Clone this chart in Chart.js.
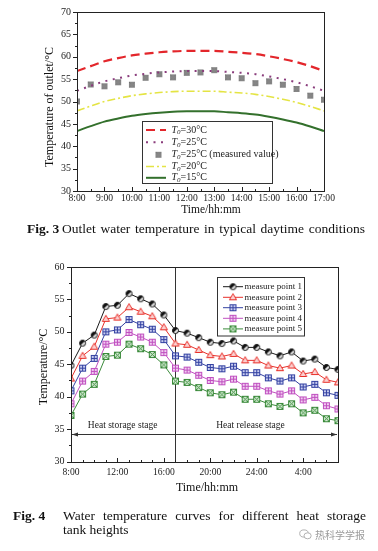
<!DOCTYPE html>
<html><head><meta charset="utf-8">
<script src="https://cdn.jsdelivr.net/npm/chart.js@4.4.1/dist/chart.umd.min.js"></script>
<style>
html,body{margin:0;padding:0;background:#fff;}
#page{position:relative;width:378px;height:551px;overflow:hidden;background:#fff;font-family:"Liberation Serif","Times New Roman",serif;color:#111;}
.t{position:absolute;white-space:nowrap;}
canvas{position:absolute;left:0;}
</style></head><body>
<div id="page">
<canvas id="c1" width="378" height="216" style="top:0;width:378px;height:216px"></canvas>
<canvas id="c2" width="378" height="232" style="top:250px;width:378px;height:232px"></canvas>

<div class="t" style="left:49px;top:107px;font-size:12px;line-height:14px;transform:translate(-50%,-50%) rotate(-90deg);">Temperature of outlet/°C</div>
<div class="t" style="left:211px;top:209px;font-size:11.5px;line-height:14px;transform:translate(-50%,-50%);">Time/hh:mm</div>
<div class="t" style="left:27px;top:221px;font-size:13.5px;line-height:16px;font-weight:bold;">Fig. 3</div>
<div class="t" style="left:62px;top:221px;width:303px;font-size:13.5px;line-height:16px;text-align:justify;text-align-last:justify;white-space:normal;">Outlet water temperature in typical daytime conditions</div>

<div class="t" style="left:43px;top:367px;font-size:12px;line-height:14px;transform:translate(-50%,-50%) rotate(-90deg);">Temperature/°C</div>
<div class="t" style="left:207px;top:487px;font-size:12px;line-height:14px;transform:translate(-50%,-50%);">Time/hh:mm</div>
<div class="t" style="left:13px;top:508px;font-size:13.5px;line-height:16px;font-weight:bold;">Fig. 4</div>
<div class="t" style="left:63px;top:508px;width:303px;font-size:13.5px;line-height:16px;text-align:justify;text-align-last:justify;white-space:normal;">Water temperature curves for different heat storage</div>
<div class="t" style="left:63px;top:522px;font-size:13.5px;line-height:16px;">tank heights</div>
<svg class="t" style="left:299px;top:529px" width="13" height="11" viewBox="0 0 13 11"><ellipse cx="5" cy="4.5" rx="4.3" ry="3.6" fill="none" stroke="#aaa" stroke-width="0.9"/><ellipse cx="8.6" cy="6.8" rx="3.6" ry="3" fill="#fff" stroke="#aaa" stroke-width="0.9"/></svg>
<div class="t" style="left:315px;top:529px;font-size:10px;line-height:12px;color:#9a9a9a;font-family:'Noto Sans CJK SC',sans-serif;">热科学学报</div>
</div>

<script>
// ---------- Fig. 3 data ----------
const fig3Times = ['8:00','8:30','9:00','9:30','10:00','10:30','11:00','11:30','12:00','12:30','13:00','13:30','14:00','14:30','15:00','15:30','16:00','16:30','17:00'];
const fig3Hours = [8,8.5,9,9.5,10,10.5,11,11.5,12,12.5,13,13.5,14,14.5,15,15.5,16,16.5,17];
const fig3TickHours = [8,9,10,11,12,13,14,15,16,17];
const fig3TickLabels = ['8:00','9:00','10:00','11:00','12:00','13:00','14:00','15:00','16:00','17:00'];
const fig3YTicks = [30,35,40,45,50,55,60,65,70];
const t0_30 = [56.8,57.9,59.0,59.7,60.3,60.7,61.0,61.2,61.3,61.3,61.3,61.1,60.9,60.6,60.1,59.5,58.8,57.9,56.8];
const t0_25 = [52.4,53.5,54.5,55.2,55.8,56.2,56.5,56.7,56.8,56.8,56.8,56.6,56.4,56.1,55.6,55.0,54.3,53.4,52.4];
const t0_25_measured = [50.0,53.8,53.4,54.3,53.75,55.3,56.1,55.4,56.4,56.5,57.0,55.4,55.2,54.1,54.5,53.75,52.8,51.3,50.4];
const t0_20 = [47.9,49.0,50.0,50.7,51.3,51.7,52.0,52.2,52.3,52.3,52.3,52.1,51.9,51.6,51.1,50.5,49.8,48.9,47.9];
const t0_15 = [43.4,44.5,45.5,46.2,46.8,47.2,47.5,47.7,47.8,47.8,47.8,47.6,47.4,47.1,46.6,46.0,45.3,44.4,43.4];

// ---------- Fig. 4 data ----------
const fig4Times = ['8:00','9:00','10:00','11:00','12:00','13:00','14:00','15:00','16:00','17:00','18:00','19:00','20:00','21:00','22:00','23:00','24:00','1:00','2:00','3:00','4:00','5:00','6:00','7:00'];
const fig4Hours = [8,9,10,11,12,13,14,15,16,17,18,19,20,21,22,23,24,25,26,27,28,29,30,31];
const fig4TickHours = [8,12,16,20,24,28];
const fig4TickLabels = ['8:00','12:00','16:00','20:00','24:00','4:00'];
const fig4YTicks = [30,35,40,45,50,55,60];
const mp1 = [44.8,48.25,49.5,53.9,54.1,55.9,55.1,54.3,52.6,50.2,49.8,49.1,48.4,48.2,48.6,47.6,47.6,46.9,46.3,46.9,45.5,45.8,44.5,44.2];
const mp2 = [42.8,46.3,47.7,52.0,52.2,53.8,53.1,52.4,50.7,48.2,48.0,47.2,46.4,46.2,46.6,45.6,45.6,44.8,44.4,44.8,43.5,43.8,42.6,42.2];
const mp3 = [40.9,44.4,45.9,50.0,50.3,51.9,51.1,50.4,48.8,46.3,46.1,45.3,44.5,44.3,44.7,43.7,43.7,42.9,42.4,42.9,41.5,41.9,40.6,40.2];
const mp4 = [38.9,42.4,43.9,48.1,48.4,49.9,49.2,48.4,46.8,44.4,44.1,43.3,42.5,42.3,42.7,41.6,41.6,40.9,40.4,40.9,39.5,39.9,38.6,38.1];
const mp5 = [37.1,40.4,41.9,46.2,46.4,48.1,47.4,46.5,44.9,42.4,42.2,41.4,40.6,40.3,40.7,39.6,39.6,38.9,38.5,38.9,37.5,37.9,36.6,36.3];
const stageBoundary = 17;
const stageArrowY = 34.2;
const stageLabels = [{text:'Heat storage stage', x:12.45, y:35.55},{text:'Heat release stage', x:23.46, y:35.55}];

const FONT = "'Liberation Serif','Times New Roman',serif";

// ---------- marker images ----------
function mk(s, draw){const c=document.createElement('canvas');c.width=s;c.height=s;const g=c.getContext('2d');draw(g,s/2);return c;}
const mMeasured = mk(8,(g,h)=>{g.fillStyle='#f2f2f2';g.fillRect(h-2.5,h-2.5,5,5);g.strokeStyle='#6a6a6a';g.lineWidth=0.8;g.strokeRect(h-2.5,h-2.5,5,5);g.beginPath();g.arc(h,h,1.7,0,Math.PI*2);g.stroke();g.beginPath();g.moveTo(h-2.5,h-2.5);g.lineTo(h+2.5,h+2.5);g.moveTo(h+2.5,h-2.5);g.lineTo(h-2.5,h+2.5);g.stroke();});
const mCircle = mk(9,(g,h)=>{g.fillStyle='#ddd';g.beginPath();g.arc(h,h,3,0,Math.PI*2);g.fill();g.fillStyle='#111';g.beginPath();g.arc(h,h,3,Math.PI*0.75,Math.PI*1.75);g.fill();g.strokeStyle='#111';g.lineWidth=1;g.beginPath();g.arc(h,h,3,0,Math.PI*2);g.stroke();});
const mTri = mk(10,(g,h)=>{g.fillStyle='#fbd0d0';g.strokeStyle='#e8302a';g.lineWidth=1;g.beginPath();g.moveTo(h,h-3.6);g.lineTo(h+3.6,h+2.5);g.lineTo(h-3.6,h+2.5);g.closePath();g.fill();g.stroke();});
function sqPlus(col,fill){return mk(9,(g,h)=>{g.fillStyle=fill;g.fillRect(h-3,h-3,6,6);g.strokeStyle=col;g.lineWidth=1;g.strokeRect(h-3,h-3,6,6);g.beginPath();g.moveTo(h,h-3);g.lineTo(h,h+3);g.moveTo(h-3,h);g.lineTo(h+3,h);g.stroke();});}
const mSq3 = sqPlus('#3442a2','#c9cdf0');
const mSq4 = sqPlus('#c050c0','#f1cdf1');
const mX5 = mk(9,(g,h)=>{g.fillStyle='#d4ecd4';g.fillRect(h-3,h-3,6,6);g.strokeStyle='#3a8a3a';g.lineWidth=1;g.strokeRect(h-3,h-3,6,6);g.beginPath();g.moveTo(h-3,h-3);g.lineTo(h+3,h+3);g.moveTo(h+3,h-3);g.lineTo(h-3,h+3);g.stroke();});

// ---------- helpers ----------
function range(a,b,s){const r=[];for(let v=a;v<=b+1e-9;v+=s)r.push(+v.toFixed(4));return r;}
function frameAndTicks(chart, cfg){
  const {ctx, chartArea:a, scales:{x,y}} = chart;
  ctx.save();
  ctx.strokeStyle='#222';ctx.lineWidth=1;
  ctx.strokeRect(Math.round(a.left)+0.5, Math.round(a.top)+0.5, Math.round(a.right-a.left), Math.round(a.bottom-a.top));
  ctx.beginPath();
  const yb = Math.round(a.bottom)+0.5, xl = Math.round(a.left)+0.5;
  cfg.xMajor.forEach(v=>{const p=Math.round(x.getPixelForValue(v))+0.5;ctx.moveTo(p,yb);ctx.lineTo(p,yb+cfg.xDir*4.5);});
  cfg.xMinor.forEach(v=>{const p=Math.round(x.getPixelForValue(v))+0.5;ctx.moveTo(p,yb);ctx.lineTo(p,yb+cfg.xDir*2.5);});
  cfg.yMajor.forEach(v=>{const p=Math.round(y.getPixelForValue(v))+0.5;ctx.moveTo(xl,p);ctx.lineTo(xl-4.5,p);});
  cfg.yMinor.forEach(v=>{const p=Math.round(y.getPixelForValue(v))+0.5;ctx.moveTo(xl,p);ctx.lineTo(xl-2.5,p);});
  ctx.stroke();
  ctx.restore();
}
function drawLineSample(ctx, ds, x1, x2, yy){
  ctx.save();
  ctx.strokeStyle=ds.borderColor;ctx.lineWidth=ds.borderWidth;ctx.setLineDash(ds.borderDash||[]);
  ctx.beginPath();ctx.moveTo(x1,yy);ctx.lineTo(x2,yy);ctx.stroke();
  ctx.restore();
}

// ---------- Fig. 3 ----------
const fig3Legend = {
  id:'fig3Legend',
  afterDraw(chart){
    frameAndTicks(chart,{xMajor:fig3TickHours,xMinor:range(8.5,16.5,1),xDir:-1,yMajor:fig3YTicks,yMinor:range(32.5,67.5,5)});
    const ctx=chart.ctx;
    ctx.save();
    ctx.fillStyle='#fff';ctx.fillRect(143,121,130,62);
    ctx.strokeStyle='#333';ctx.lineWidth=1;ctx.strokeRect(142.5,121.5,130,62);
    const rows=[130,142.3,154.8,166.5,177.8];
    const labels=['=30°C','=25°C','=25°C (measured value)','=20°C','=15°C'];
    [0,1,2,3,4].forEach((di,i)=>{
      const ds=chart.data.datasets[di];
      if(di===2){ctx.drawImage(mMeasured,158.5-4,rows[i]-4);}
      else drawLineSample(ctx,ds,146,166,rows[i]);
      let tx=171.5;
      ctx.fillStyle='#222';ctx.textBaseline='middle';ctx.textAlign='left';
      ctx.font='italic 10px '+FONT;ctx.fillText('T',tx,rows[i]);tx+=ctx.measureText('T').width;
      ctx.font='italic 7px '+FONT;ctx.fillText('0',tx,rows[i]+2.5);tx+=ctx.measureText('0').width;
      ctx.font='10px '+FONT;ctx.fillText(labels[i],tx,rows[i]);
    });
    ctx.restore();
  }
};
new Chart(document.getElementById('c1'),{
  type:'line',
  data:{
    labels: fig3Times,
    datasets:[
      {label:'T0=30°C',data:fig3Hours.map((h,i)=>({x:h,y:t0_30[i]})),borderColor:'#e3262b',borderWidth:2.2,borderDash:[9,5],pointRadius:0,tension:0.4,cubicInterpolationMode:'monotone',fill:false},
      {label:'T0=25°C',data:fig3Hours.map((h,i)=>({x:h,y:t0_25[i]})),borderColor:'#8a3c7c',borderWidth:2,borderDash:[2,5.5],pointRadius:0,tension:0.4,cubicInterpolationMode:'monotone',fill:false},
      {label:'T0=25°C (measured value)',data:fig3Hours.map((h,i)=>({x:h,y:t0_25_measured[i]})),showLine:false,pointStyle:mMeasured,pointRadius:4,borderColor:'#666',backgroundColor:'#fff'},
      {label:'T0=20°C',data:fig3Hours.map((h,i)=>({x:h,y:t0_20[i]})),borderColor:'#e4e444',borderWidth:1.6,borderDash:[8,3,2,3],pointRadius:0,tension:0.4,cubicInterpolationMode:'monotone',fill:false},
      {label:'T0=15°C',data:fig3Hours.map((h,i)=>({x:h,y:t0_15[i]})),borderColor:'#33702c',borderWidth:2,pointRadius:0,tension:0.4,cubicInterpolationMode:'monotone',fill:false}
    ]
  },
  options:{
    responsive:false,animation:false,devicePixelRatio:1,
    layout:{padding:{top:9,right:54,left:0,bottom:0}},
    plugins:{legend:{display:false},tooltip:{enabled:false}},
    scales:{
      x:{type:'linear',min:8,max:17,
        afterBuildTicks:s=>{s.ticks=fig3TickHours.map(v=>({value:v}));},
        afterFit:s=>{s.height=25;},
        grid:{display:false,drawTicks:false},border:{display:false},
        ticks:{autoSkip:false,maxRotation:0,padding:1.5,color:'#222',font:{family:FONT,size:9.6},callback:v=>fig3TickLabels[fig3TickHours.indexOf(v)]}},
      y:{min:30,max:70,
        afterBuildTicks:s=>{s.ticks=fig3YTicks.map(v=>({value:v}));},
        afterFit:s=>{s.width=77;},
        grid:{display:false,drawTicks:false},border:{display:false},
        ticks:{padding:6,color:'#222',font:{family:FONT,size:10}}}
    }
  },
  plugins:[fig3Legend]
});

// ---------- Fig. 4 ----------
const fig4Decor = {
  id:'fig4Decor',
  beforeDatasetsDraw(chart){
    const {ctx, chartArea:a, scales:{x,y}} = chart;
    ctx.save();
    ctx.strokeStyle='#333';ctx.lineWidth=1;
    const bx=Math.round(x.getPixelForValue(stageBoundary))+0.5;
    ctx.beginPath();ctx.moveTo(bx,a.top);ctx.lineTo(bx,a.bottom);ctx.stroke();
    const ay=Math.round(y.getPixelForValue(stageArrowY))+0.5;
    const x1=x.getPixelForValue(8)+1, x2=x.getPixelForValue(31)-1;
    ctx.beginPath();ctx.moveTo(x1,ay);ctx.lineTo(x2,ay);ctx.stroke();
    ctx.fillStyle='#333';
    ctx.beginPath();ctx.moveTo(x1,ay);ctx.lineTo(x1+6,ay-2);ctx.lineTo(x1+6,ay+2);ctx.closePath();ctx.fill();
    ctx.beginPath();ctx.moveTo(x2,ay);ctx.lineTo(x2-6,ay-2);ctx.lineTo(x2-6,ay+2);ctx.closePath();ctx.fill();
    ctx.fillStyle='#222';ctx.font='9.5px '+FONT;ctx.textAlign='center';ctx.textBaseline='middle';
    stageLabels.forEach(l=>ctx.fillText(l.text,x.getPixelForValue(l.x),y.getPixelForValue(l.y)));
    ctx.restore();
  },
  afterDraw(chart){
    frameAndTicks(chart,{xMajor:fig4TickHours,xMinor:fig4Hours.filter(h=>!fig4TickHours.includes(h)),xDir:-1,yMajor:fig4YTicks,yMinor:range(32.5,57.5,5)});
    const ctx=chart.ctx;
    ctx.save();
    ctx.fillStyle='#fff';ctx.fillRect(218,27.5,86,58.5);
    ctx.strokeStyle='#333';ctx.lineWidth=1;ctx.strokeRect(217.5,27.5,87,58.5);
    const rows=[36.7,47.3,57.7,68.3,78.9];
    chart.data.datasets.forEach((ds,i)=>{
      drawLineSample(ctx,ds,223,243,rows[i]);
      const img=ds.pointStyle;ctx.drawImage(img,233-img.width/2,rows[i]-img.height/2);
      ctx.fillStyle='#222';ctx.font='9px '+FONT;ctx.textAlign='left';ctx.textBaseline='middle';
      ctx.fillText(ds.label,244.5,rows[i]);
    });
    ctx.restore();
  }
};
function mpSet(label,vals,color,img){return {label,data:fig4Hours.map((h,i)=>({x:h,y:vals[i]})),borderColor:color,borderWidth:1,pointStyle:img,pointRadius:4,tension:0,fill:false};}
new Chart(document.getElementById('c2'),{
  type:'line',
  data:{
    labels: fig4Times,
    datasets:[
      mpSet('measure point 1',mp1,'#1a1a1a',mCircle),
      mpSet('measure point 2',mp2,'#e8302a',mTri),
      mpSet('measure point 3',mp3,'#3442a2',mSq3),
      mpSet('measure point 4',mp4,'#c050c0',mSq4),
      mpSet('measure point 5',mp5,'#3a8a3a',mX5)
    ]
  },
  options:{
    responsive:false,animation:false,devicePixelRatio:1,
    layout:{padding:{top:17,right:40,left:0,bottom:0}},
    plugins:{legend:{display:false},tooltip:{enabled:false}},
    scales:{
      x:{type:'linear',min:8,max:31,
        afterBuildTicks:s=>{s.ticks=fig4TickHours.map(v=>({value:v}));},
        afterFit:s=>{s.height=20.5;},
        grid:{display:false,drawTicks:false},border:{display:false},
        ticks:{autoSkip:false,maxRotation:0,padding:5,color:'#222',font:{family:FONT,size:9.6},callback:v=>fig4TickLabels[fig4TickHours.indexOf(v)]}},
      y:{min:30,max:60,
        afterBuildTicks:s=>{s.ticks=fig4YTicks.map(v=>({value:v}));},
        afterFit:s=>{s.width=71;},
        grid:{display:false,drawTicks:false},border:{display:false},
        ticks:{padding:6.5,color:'#222',font:{family:FONT,size:10}}}
    }
  },
  plugins:[fig4Decor]
});
</script>
</body></html>
